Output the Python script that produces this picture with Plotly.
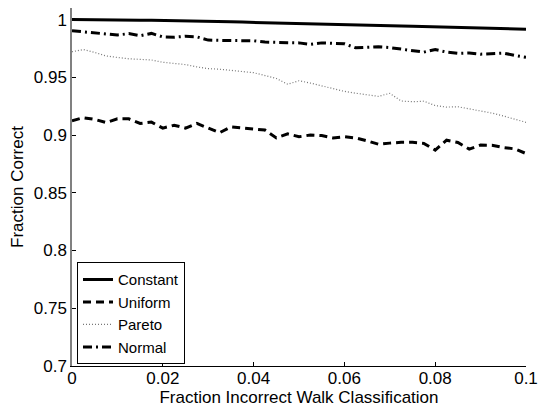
import plotly.graph_objects as go

x_vals = [i * 0.0025 for i in range(41)]

constant = [1.0, 1.0, 0.9999, 0.9998, 0.9997, 0.9996, 0.9995, 0.9993, 0.9992, 0.9990,
            0.9988, 0.9986, 0.9984, 0.9982, 0.9980, 0.9978, 0.9976, 0.9974, 0.9972, 0.9970,
            0.9968, 0.9966, 0.9963, 0.9960, 0.9958, 0.9955, 0.9952, 0.9950, 0.9947, 0.9944,
            0.9941, 0.9938, 0.9935, 0.9932, 0.9929, 0.9927, 0.9925, 0.9923, 0.9921, 0.9919,
            0.9917]

uniform = [0.9124, 0.9150, 0.9135, 0.9108, 0.9140, 0.9140, 0.9100, 0.9112, 0.9060, 0.9085,
           0.9060, 0.9100, 0.9060, 0.9020, 0.9070, 0.9060, 0.9050, 0.9043, 0.8975, 0.9010,
           0.8985, 0.9000, 0.8995, 0.8975, 0.8985, 0.8975, 0.8950, 0.8920, 0.8930, 0.8937,
           0.8937, 0.8928, 0.8870, 0.8955, 0.8935, 0.8878, 0.8913, 0.8912, 0.8892, 0.8880,
           0.8840]

pareto = [0.9721, 0.9740, 0.9715, 0.9685, 0.9672, 0.9660, 0.9655, 0.9650, 0.9630, 0.9618,
          0.9610, 0.9590, 0.9575, 0.9570, 0.9562, 0.9550, 0.9540, 0.9515, 0.9490, 0.9440,
          0.9470, 0.9450, 0.9425, 0.9400, 0.9378, 0.9362, 0.9350, 0.9335, 0.9361, 0.9295,
          0.9288, 0.9293, 0.9255, 0.9242, 0.9245, 0.9228, 0.9210, 0.9190, 0.9165, 0.9140,
          0.9110]

normal = [0.9903, 0.9895, 0.9882, 0.9880, 0.9866, 0.9878, 0.9860, 0.9880, 0.9850, 0.9847,
          0.9855, 0.9850, 0.9822, 0.9820, 0.9820, 0.9820, 0.9816, 0.9805, 0.9800, 0.9800,
          0.9798, 0.9785, 0.9798, 0.9797, 0.9790, 0.9755, 0.9760, 0.9764, 0.9757, 0.9745,
          0.9733, 0.9718, 0.9740, 0.9718, 0.9707, 0.9710, 0.9700, 0.9706, 0.9710, 0.9690,
          0.9673]

x_ticks = [0, 0.02, 0.04, 0.06, 0.08, 0.1]
x_tick_labels = ["0", "0.02", "0.04", "0.06", "0.08", "0.1"]
y_ticks = [0.7, 0.75, 0.8, 0.85, 0.9, 0.95, 1.0]
y_tick_labels = ["0.7", "0.75", "0.8", "0.85", "0.9", "0.95", "1"]

FONT = "Liberation Sans, Arial, Helvetica, sans-serif"
FS = 17

fig = go.Figure()
fig.add_trace(go.Scatter(x=x_vals, y=constant, mode="lines", name="Constant",
                         line=dict(color="black", width=3)))
fig.add_trace(go.Scatter(x=x_vals, y=uniform, mode="lines", name="Uniform",
                         line=dict(color="black", width=3, dash="8px,5px")))
fig.add_trace(go.Scatter(x=x_vals, y=pareto, mode="lines", name="Pareto",
                         line=dict(color="#777777", width=1.2, dash="1px,2px")))
fig.add_trace(go.Scatter(x=x_vals, y=normal, mode="lines", name="Normal",
                         line=dict(color="black", width=3, dash="9px,4px,2px,4px")))

fig.update_layout(
    width=540, height=407,
    margin=dict(l=72, r=14, t=8, b=41),
    paper_bgcolor="white", plot_bgcolor="white",
    font=dict(family=FONT, size=FS, color="black"),
    showlegend=True,
    legend=dict(x=0.011, y=0.005, xanchor="left", yanchor="bottom",
                bordercolor="black", borderwidth=1, bgcolor="white",
                font=dict(family=FONT, size=15, color="black"),
                tracegroupgap=0, itemwidth=30),
)
fig.update_xaxes(
    range=[0, 0.1], tickvals=x_ticks, ticktext=x_tick_labels, automargin=False,
    showgrid=False, zeroline=False, showline=True, linecolor="black", linewidth=1,
    ticks="inside", ticklen=4, tickcolor="black", ticklabelstandoff=-3,
    title=dict(text="Fraction Incorrect Walk Classification", standoff=0,
               font=dict(family=FONT, size=FS)),
)
fig.update_yaxes(
    range=[0.7, 1.01], tickvals=y_ticks, ticktext=y_tick_labels, automargin=False,
    showgrid=False, zeroline=False, showline=True, linecolor="#808080", linewidth=1.5,
    ticks="inside", ticklen=4, tickcolor="black",
    title=dict(text="Fraction Correct", standoff=6,
               font=dict(family=FONT, size=FS)),
)

fig.write_html("out.html", config={"displayModeBar": False},
               post_script="document.body.style.margin='0px';document.body.style.overflow='hidden';")
